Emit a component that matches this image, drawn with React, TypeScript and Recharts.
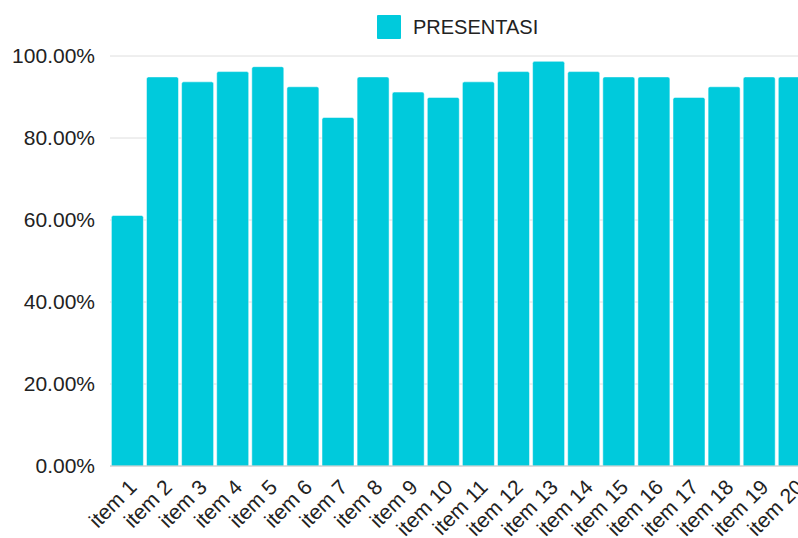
import React from 'react';
import { BarChart, Bar, XAxis, YAxis, CartesianGrid, Legend } from 'recharts';

const categories = ['item 1','item 2','item 3','item 4','item 5','item 6','item 7','item 8','item 9','item 10','item 11','item 12','item 13','item 14','item 15','item 16','item 17','item 18','item 19','item 20'];
const presentasi = [61.1, 94.9, 93.7, 96.2, 97.4, 92.5, 85.0, 94.9, 91.2, 89.9, 93.7, 96.2, 98.7, 96.2, 94.9, 94.9, 89.9, 92.5, 94.9, 94.9];
const yTicks = [0, 20, 40, 60, 80, 100];
const seriesName = 'PRESENTASI';

const data = categories.map((c, i) => ({ name: c, value: presentasi[i] }));

const COLOR = '#00CADC';
const FONT = '"Liberation Sans", Arial, sans-serif';
const W = 812;
const H = 538;

const LegendContent = () => (
  <div style={{ position: 'relative', width: W, height: 30, fontFamily: FONT }}>
    <div style={{ position: 'absolute', left: 377, top: 3, display: 'flex', alignItems: 'center' }}>
      <div style={{ width: 24, height: 24, background: COLOR, borderRadius: 1 }} />
      <span style={{ marginLeft: 12, fontSize: 20, color: '#222' }}>{seriesName}</span>
    </div>
  </div>
);

export default function App() {
  return (
    <div style={{ position: 'absolute', left: 0, top: 0, width: 798, height: 538, overflow: 'hidden', background: '#fff' }}>
      <BarChart width={W} height={H} data={data} margin={{ top: 14, right: 0, bottom: 0, left: 0 }} barCategoryGap={1.4}>
        <CartesianGrid vertical={false} stroke="#dedede" />
        <Legend verticalAlign="top" height={42} content={<LegendContent />} wrapperStyle={{ left: 0, top: 12, width: W }} />
        <XAxis
          dataKey="name"
          interval={0}
          angle={-45}
          textAnchor="end"
          height={72}
          tickLine={false}
          tickMargin={6}
          axisLine={{ stroke: '#c8c8c8' }}
          tick={{ fill: '#222', fontSize: 21, fontFamily: FONT }}
        />
        <YAxis
          width={110}
          domain={[0, 100]}
          ticks={yTicks}
          tickFormatter={(v: number) => v.toFixed(2) + '%'}
          axisLine={false}
          tickLine={false}
          tickSize={6}
          tickMargin={9}
          tick={{ fill: '#222', fontSize: 21, fontFamily: FONT }}
        />
        <Bar dataKey="value" name={seriesName} fill={COLOR} stroke="#ffffff" strokeWidth={0.5} radius={[2, 2, 0, 0]} isAnimationActive={false} />
      </BarChart>
    </div>
  );
}
